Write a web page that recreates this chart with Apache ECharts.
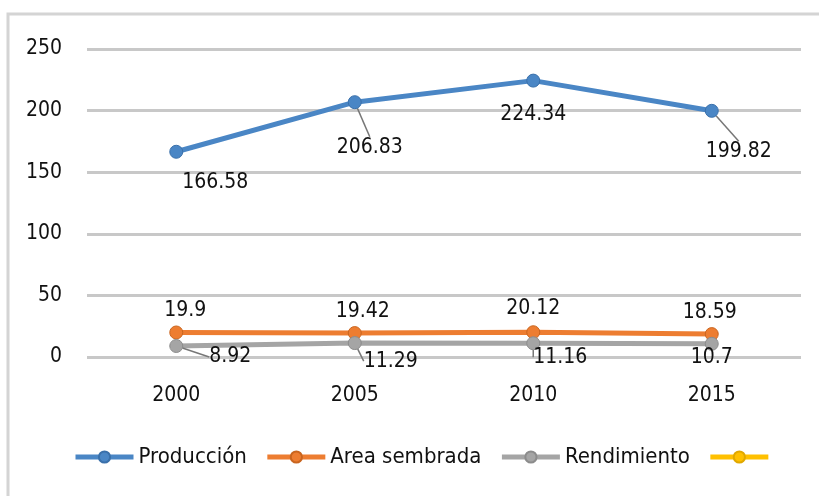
<!DOCTYPE html>
<html>
<head>
<meta charset="utf-8">
<script src="https://cdn.jsdelivr.net/npm/echarts@6/dist/echarts.min.js"></script>
<style>html,body{margin:0;padding:0;background:#fff}#c{width:819px;height:496px}</style>
</head>
<body>
<div id="c"></div>
<script>
const categories = ['2000', '2005', '2010', '2015'];
const produccion = [166.58, 206.83, 224.34, 199.82];
const areaSembrada = [19.9, 19.42, 20.12, 18.59];
const rendimiento = [8.92, 11.29, 11.16, 10.7];
const serieVacia = [null, null, null, null];
const seriesNames = ['Producción', 'Area sembrada', 'Rendimiento', ' '];

const FONT = "'DejaVu Sans Condensed', 'Liberation Sans Narrow', sans-serif";
const chart = echarts.init(document.getElementById('c'), null, {renderer: 'canvas'});

// label offsets (label centre relative to point) and leader visibility: styling only
const offsP = [[39, 31], [15, 45], [0, 34], [27, 41]];
const lineP = [false, true, false, true];
const offsA = [[9, -22], [8, -22], [0, -24], [-2, -22]];
const lineA = [false, false, false, false];
const offsR = [[54, 11], [36, 18], [27, 14], [0, 14]];
const lineR = [true, true, true, false];

function mkSeries(name, values, color, border, offs, lines) {
  const data = values.map((v, i) => offs ? {
    value: v,
    labelLine: {show: lines[i]}
  } : v);
  return {
    name: name,
    type: 'line',
    data: data,
    symbol: 'circle',
    symbolSize: 13,
    lineStyle: {width: 5, color: color},
    itemStyle: {color: color, borderColor: border, borderWidth: 1},
    label: offs ? {
      show: true,
      position: 'inside',
      fontFamily: FONT,
      fontSize: 21,
      color: '#111',
      formatter: p => String(p.value)
    } : {show: false},
    labelLine: {show: true, lineStyle: {color: '#777', width: 1.5}},
    labelLayout: offs ? function (p) {
      const o = offs[p.dataIndex];
      return {dx: o[0], dy: o[1]};
    } : undefined,
    emphasis: {disabled: true},
    z: 2
  };
}

chart.setOption({
  animation: false,
  graphic: [{
    type: 'rect',
    shape: {x: 8, y: 14, width: 830, height: 500},
    style: {fill: 'none', stroke: '#d4d4d4', lineWidth: 3},
    silent: true
  }],
  grid: {left: 87, right: 18, top: 49, bottom: 139, containLabel: false},
  legend: {
    data: seriesNames,
    bottom: 23,
    left: 68,
    padding: 5,
    itemWidth: 58,
    itemHeight: 14,
    itemGap: 18,
    lineStyle: {width: 5},
    textStyle: {fontFamily: FONT, fontSize: 22, color: '#111'},
    selectedMode: false
  },
  xAxis: {
    type: 'category',
    data: categories,
    boundaryGap: true,
    axisLine: {show: false},
    axisTick: {show: false},
    axisLabel: {fontFamily: FONT, fontSize: 21, color: '#111', margin: 28}
  },
  yAxis: {
    type: 'value',
    min: 0,
    max: 250,
    interval: 50,
    axisLine: {show: false},
    axisTick: {show: false},
    axisLabel: {fontFamily: FONT, fontSize: 21, color: '#111', margin: 25},
    splitLine: {lineStyle: {color: '#c8c8c8', width: 3}}
  },
  series: [
    mkSeries(seriesNames[0], produccion, '#4a86c5', '#3a70aa', offsP, lineP),
    mkSeries(seriesNames[1], areaSembrada, '#ed7d31', '#c9651f', offsA, lineA),
    mkSeries(seriesNames[2], rendimiento, '#a5a5a5', '#8c8c8c', offsR, lineR),
    mkSeries(seriesNames[3], serieVacia, '#ffc000', '#e0a800', null, null)
  ]
});
</script>
</body>
</html>
